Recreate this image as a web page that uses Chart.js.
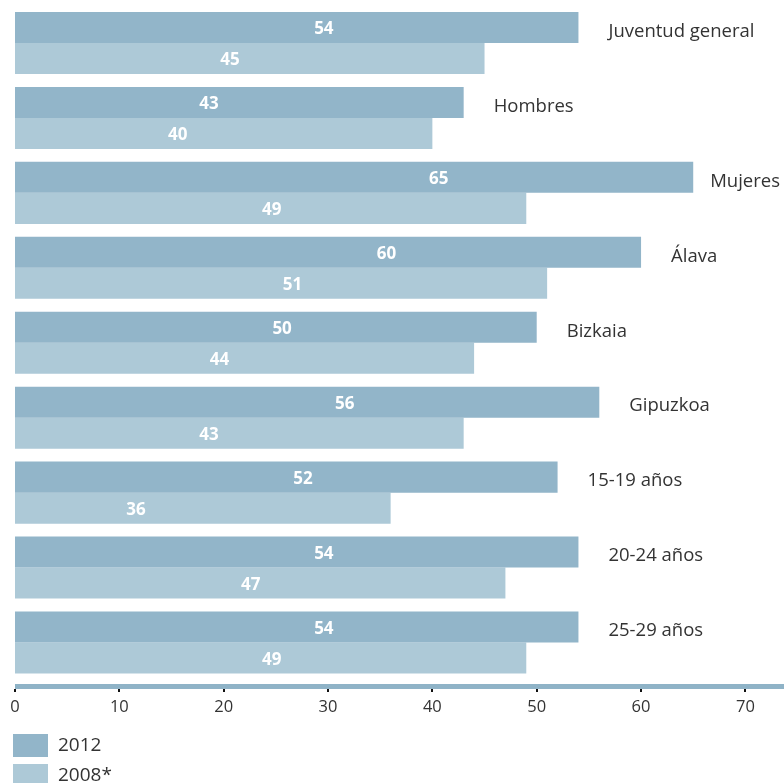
<!DOCTYPE html>
<html>
<head>
<meta charset="utf-8">
<script src="https://cdn.jsdelivr.net/npm/chart.js@4/dist/chart.umd.min.js"></script>
<style>
html,body{margin:0;padding:0;background:#fff;}
#wrap{width:784px;height:783px;position:relative;}
</style>
</head>
<body>
<div id="wrap"><canvas id="c"></canvas></div>
<script>
const categories = ["Juventud general","Hombres","Mujeres","Álava","Bizkaia","Gipuzkoa","15-19 años","20-24 años","25-29 años"];
const values2012 = [54,43,65,60,50,56,52,54,54];
const values2008 = [45,40,49,51,44,43,36,47,49];
const seriesLabels = ["2012","2008*"];
const xTicks = [0,10,20,30,40,50,60,70];

const FONT = "'Open Sans', 'Noto Sans', sans-serif";
const C2012 = "#92b5c9";
const C2008 = "#adc9d7";
const AXIS = "#8fb3c7";
const TEXT = "#333333";

const labelsPlugin = {
  id: 'customDraw',
  afterDatasetsDraw(chart) {
    const ctx = chart.ctx;
    const xs = chart.scales.x;
    ctx.save();
    // value labels inside bars
    ctx.fillStyle = '#ffffff';
    ctx.font = "bold 17px " + FONT;
    ctx.textAlign = 'center';
    ctx.textBaseline = 'middle';
    chart.data.datasets.forEach((ds, di) => {
      const meta = chart.getDatasetMeta(di);
      meta.data.forEach((el, i) => {
        const v = ds.data[i];
        ctx.fillText(String(v), xs.getPixelForValue(v - 24.4), el.y + 2);
      });
    });
    // category labels to the right of the 2012 bar
    ctx.fillStyle = TEXT;
    ctx.font = "18.5px " + FONT;
    ctx.textAlign = 'left';
    const meta0 = chart.getDatasetMeta(0);
    meta0.data.forEach((el, i) => {
      const txt = chart.data.labels[i];
      const w = ctx.measureText(txt).width;
      let x = el.x + 30;
      if (x + w > chart.width - 4) x = chart.width - 4 - w;
      ctx.fillText(txt, x, el.y + 4);
    });
    ctx.restore();
  },
  afterDraw(chart) {
    const ctx = chart.ctx;
    const xs = chart.scales.x;
    const ca = chart.chartArea;
    ctx.save();
    // axis line
    const yLine = ca.bottom + 6.5;
    ctx.fillStyle = AXIS;
    ctx.fillRect(ca.left, yLine - 2.5, chart.width - ca.left, 5);
    // tick marks
    ctx.fillStyle = '#111111';
    xTicks.forEach(t => {
      const px = Math.round(xs.getPixelForValue(t));
      ctx.fillRect(px - 1, yLine + 2.5, 2, 3);
    });
    // legend
    ctx.font = "19px " + FONT;
    ctx.textAlign = 'left';
    ctx.textBaseline = 'middle';
    chart.data.datasets.forEach((ds, i) => {
      const top = 734 + i * 30;
      ctx.fillStyle = ds.backgroundColor;
      ctx.fillRect(13, top, 35, 23);
      ctx.fillStyle = TEXT;
      ctx.fillText(ds.label, 58, top + 12);
    });
    ctx.restore();
  }
};

new Chart(document.getElementById('c'), {
  type: 'bar',
  data: {
    labels: categories,
    datasets: [
      { label: seriesLabels[0], data: values2012, backgroundColor: C2012 },
      { label: seriesLabels[1], data: values2008, backgroundColor: C2008 }
    ]
  },
  options: {
    indexAxis: 'y',
    responsive: true,
    maintainAspectRatio: false,
    animation: false,
    categoryPercentage: 0.828,
    barPercentage: 1.0,
    layout: { padding: { left: 15, right: 0, top: 5.5, bottom: 0 } },
    plugins: { legend: { display: false }, tooltip: { enabled: false } },
    scales: {
      y: { display: false, type: 'category' },
      x: {
        type: 'linear',
        position: 'bottom',
        min: 0,
        max: 73.7,
        grid: { display: false, drawTicks: false },
        border: { display: false },
        ticks: {
          stepSize: 10,
          includeBounds: false,
          color: TEXT,
          font: { family: FONT, size: 16.5 },
          padding: 17,
          maxRotation: 0
        },
        afterFit(s) { s.height = 103; s.paddingLeft = 0; s.paddingRight = 0; }
      }
    }
  },
  plugins: [labelsPlugin]
});
</script>
</body>
</html>
